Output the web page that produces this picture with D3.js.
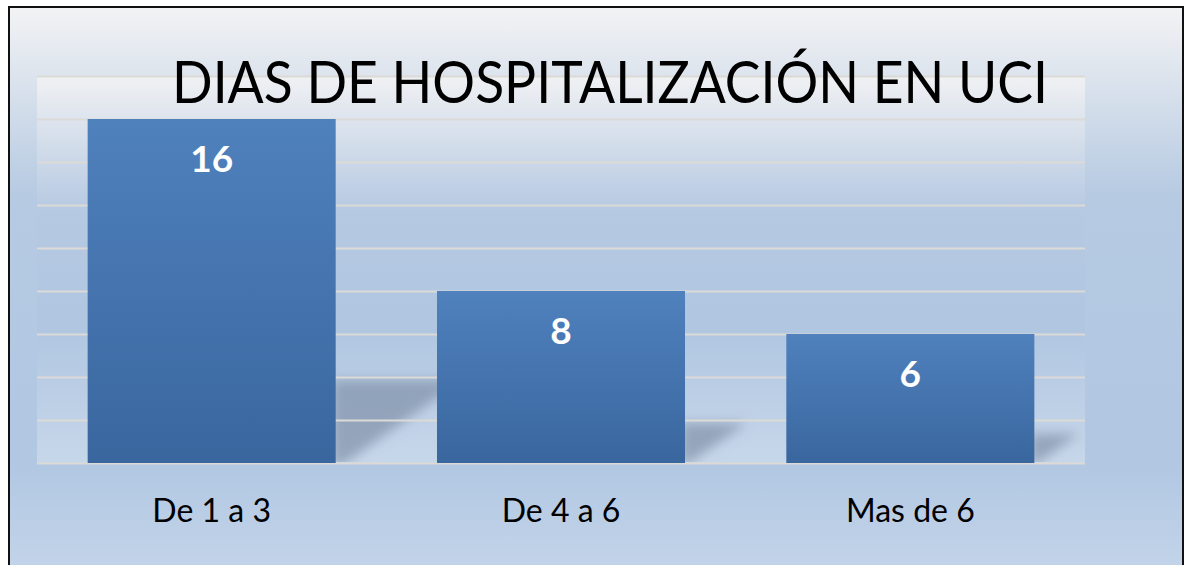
<!DOCTYPE html>
<html>
<head>
<meta charset="utf-8">
<script src="https://cdn.jsdelivr.net/npm/d3@7"></script>
<style>
  body { margin: 0; background: #ffffff; }
  text { font-family: Lato, "Open Sans", sans-serif; }
</style>
</head>
<body>
<div id="chart"></div>
<script>
// chart data
const categories = ["De 1 a 3", "De 4 a 6", "Mas de 6"];
const values = [16, 8, 6];
const yTicks = [0, 2, 4, 6, 8, 10, 12, 14, 16, 18];
const title = "DIAS DE HOSPITALIZACIÓN EN UCI";

const width = 1188, height = 565;
const plot = { left: 37, right: 1085, top: 76, bottom: 463 };

const svg = d3.select("#chart").append("svg")
    .attr("width", width)
    .attr("height", height);

let defs = svg.append("defs");

// outer background gradient
let bg = defs.append("linearGradient").attr("id", "bgGrad")
    .attr("x1", 0).attr("y1", 0).attr("x2", 0).attr("y2", 1);
bg.append("stop").attr("offset", "0%").attr("stop-color", "#f3f3f4");
bg.append("stop").attr("offset", "33%").attr("stop-color", "#b6cae2");
bg.append("stop").attr("offset", "80%").attr("stop-color", "#b1c7e2");
bg.append("stop").attr("offset", "100%").attr("stop-color", "#c4d5ea");

// plot area gradient
let pg = defs.append("linearGradient").attr("id", "plotGrad")
    .attr("x1", 0).attr("y1", 0).attr("x2", 0).attr("y2", 1);
pg.append("stop").attr("offset", "0%").attr("stop-color", "#f0f1f3");
pg.append("stop").attr("offset", "35%").attr("stop-color", "#b6c9e2");
pg.append("stop").attr("offset", "65%").attr("stop-color", "#b0c6e1");
pg.append("stop").attr("offset", "100%").attr("stop-color", "#c7d7ea");

// bar gradient
let barG = defs.append("linearGradient").attr("id", "barGrad")
    .attr("x1", 0).attr("y1", 0).attr("x2", 0).attr("y2", 1);
barG.append("stop").attr("offset", "0%").attr("stop-color", "#4f81bd");
barG.append("stop").attr("offset", "100%").attr("stop-color", "#3a669e");

defs.append("filter").attr("id", "blur")
    .attr("x", "-30%").attr("y", "-30%").attr("width", "160%").attr("height", "160%")
    .append("feGaussianBlur").attr("stdDeviation", 6);

// background and border
svg.append("rect")
    .attr("x", 9).attr("y", 7)
    .attr("width", 1174).attr("height", 570)
    .attr("fill", "url(#bgGrad)")
    .attr("stroke", "#111")
    .attr("stroke-width", 2);

svg.append("rect")
    .attr("x", plot.left).attr("y", plot.top)
    .attr("width", plot.right - plot.left)
    .attr("height", plot.bottom - plot.top)
    .attr("fill", "url(#plotGrad)");

// scales
let x = d3.scaleBand()
    .domain(categories)
    .range([plot.left, plot.right])
    .paddingInner(0.29)
    .paddingOuter(0.145);

let y = d3.scaleLinear()
    .domain([0, 18])
    .range([plot.bottom, plot.top]);

let data = categories.map((c, i) => ({ cat: c, val: values[i] }));

// soft shadows cast behind the bars (clipped to plot area)
defs.append("clipPath").attr("id", "plotClip")
    .append("rect")
    .attr("x", plot.left).attr("y", plot.top)
    .attr("width", plot.right - plot.left)
    .attr("height", plot.bottom - plot.top - 1);

svg.append("g")
    .attr("clip-path", "url(#plotClip)")
    .selectAll("path")
    .data(data)
    .join("path")
    .attr("filter", "url(#blur)")
    .attr("fill", "#76889f")
    .attr("fill-opacity", 0.62)
    .attr("d", d => {
        let x0 = x(d.cat) + x.bandwidth() - 4;
        let h = plot.bottom - y(d.val);
        let s = h * 0.25, dx = h * 0.38;
        let base = plot.bottom + 2;
        let top = plot.bottom - s + 3;
        return "M" + x0 + "," + top +
            "L" + (x0 + dx) + "," + top +
            "L" + (x0 + dx * 0.08) + "," + base +
            "L" + x0 + "," + base + "Z";
    });

// gridlines
let grid = d3.axisLeft(y)
    .tickValues(yTicks)
    .tickSize(-(plot.right - plot.left))
    .tickFormat("");

let gridG = svg.append("g")
    .attr("transform", "translate(" + plot.left + ",0)")
    .call(grid);
gridG.select(".domain").remove();
gridG.selectAll("line")
    .attr("stroke", "#dcdad6")
    .attr("stroke-width", 2);

// bars
svg.append("g").selectAll("rect")
    .data(data)
    .join("rect")
    .attr("x", d => x(d.cat))
    .attr("y", d => y(d.val))
    .attr("width", x.bandwidth())
    .attr("height", d => plot.bottom - y(d.val))
    .attr("fill", "url(#barGrad)");

// value labels
svg.append("g").selectAll("text")
    .data(data)
    .join("text")
    .attr("x", d => x(d.cat) + x.bandwidth() / 2)
    .attr("y", d => y(d.val) + 53)
    .attr("text-anchor", "middle")
    .attr("fill", "#ffffff")
    .attr("font-weight", "bold")
    .attr("font-size", 37)
    .text(d => d.val);

// category axis
let xAxis = svg.append("g")
    .attr("transform", "translate(0," + plot.bottom + ")")
    .call(d3.axisBottom(x).tickSize(0).tickPadding(0));
xAxis.select(".domain").remove();
xAxis.selectAll("text")
    .attr("dy", null)
    .attr("y", 59)
    .attr("fill", "#000")
    .attr("font-size", 32)
    .style("font-family", "Lato, 'Open Sans', sans-serif");

// title
svg.append("text")
    .attr("x", 610)
    .attr("y", 103)
    .attr("text-anchor", "middle")
    .attr("font-size", 58)
    .attr("fill", "#000")
    .attr("textLength", 876)
    .attr("lengthAdjust", "spacingAndGlyphs")
    .text(title);
</script>
</body>
</html>
